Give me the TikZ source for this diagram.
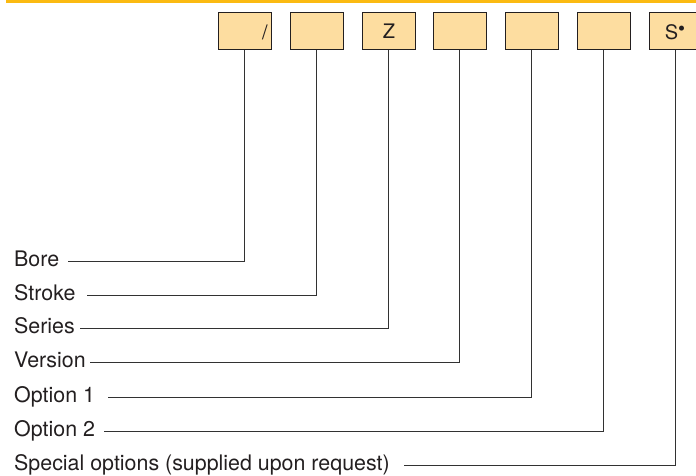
\documentclass[tikz,border=0pt]{standalone}
\usepackage{fontspec}
\setmainfont{TeX Gyre Heros}
\definecolor{barY}{RGB}{251,186,18}
\definecolor{boxF}{RGB}{253,221,160}
\definecolor{ink}{RGB}{35,31,32}
\definecolor{lineC}{RGB}{50,50,50}
\begin{document}
\begin{tikzpicture}[x=1pt,y=-1pt,
  codebox/.style={draw=ink,line width=1pt,fill=boxF,minimum width=53pt,minimum height=37pt,anchor=north west,inner sep=0pt,font=\fontsize{20}{22}\selectfont,text=ink},
  lbl/.style={anchor=base west,inner sep=0pt,font=\fontsize{21.4}{23}\selectfont,text=ink},
  conn/.style={draw=lineC,line width=0.8pt}]
\useasboundingbox (0,0) rectangle (696,475);
\fill[barY] (6,0) rectangle (696,3);
\node[codebox] (b1) at (218,12) {};
\node[codebox] (b2) at (290,12) {};
\node[codebox] (b3) at (362,12) {Z};
\node[codebox] (b4) at (433,12) {};
\node[codebox] (b5) at (505,12) {};
\node[codebox] (b6) at (577,12) {};
\node[codebox] (b7) at (649,12) {};
\node[anchor=east,inner sep=0pt,font=\fontsize{20}{22}\selectfont,text=ink] (sl) at (268,32) {/};
\node[inner sep=0pt,font=\fontsize{20}{22}\selectfont,text=ink] (s7) at (675,32) {S\raisebox{0.35ex}{\fontsize{20}{20}\selectfont\symbol{"2022}}};
\node[lbl] (l1) at (14,266.5) {Bore};
\node[lbl] (l2) at (14,300.5) {Stroke};
\node[lbl] (l3) at (14,333.5) {Series};
\node[lbl] (l4) at (14,367.5) {Version};
\node[lbl] (l5) at (14,402.5) {Option 1};
\node[lbl] (l6) at (14,436.5) {Option 2};
\node[lbl] (l7) at (14,470) {Special options (supplied upon request)};
\coordinate (e1) at (68,261);
\coordinate (e2) at (87,295);
\coordinate (e3) at (80,328);
\coordinate (e4) at (90,362);
\coordinate (e5) at (108,397);
\coordinate (e6) at (104,431);
\coordinate (e7) at (404,465);
\draw[conn] ([xshift=-1pt]b1.south) |- (e1);
\draw[conn] ([xshift=-1pt]b2.south) |- (e2);
\draw[conn] ([xshift=-1pt]b3.south) |- (e3);
\draw[conn] ([xshift=-1pt]b4.south) |- (e4);
\draw[conn] ([xshift=-1pt]b5.south) |- (e5);
\draw[conn] ([xshift=-1pt]b6.south) |- (e6);
\draw[conn] ([xshift=-1pt]b7.south) |- (e7);
\end{tikzpicture}
\end{document}
